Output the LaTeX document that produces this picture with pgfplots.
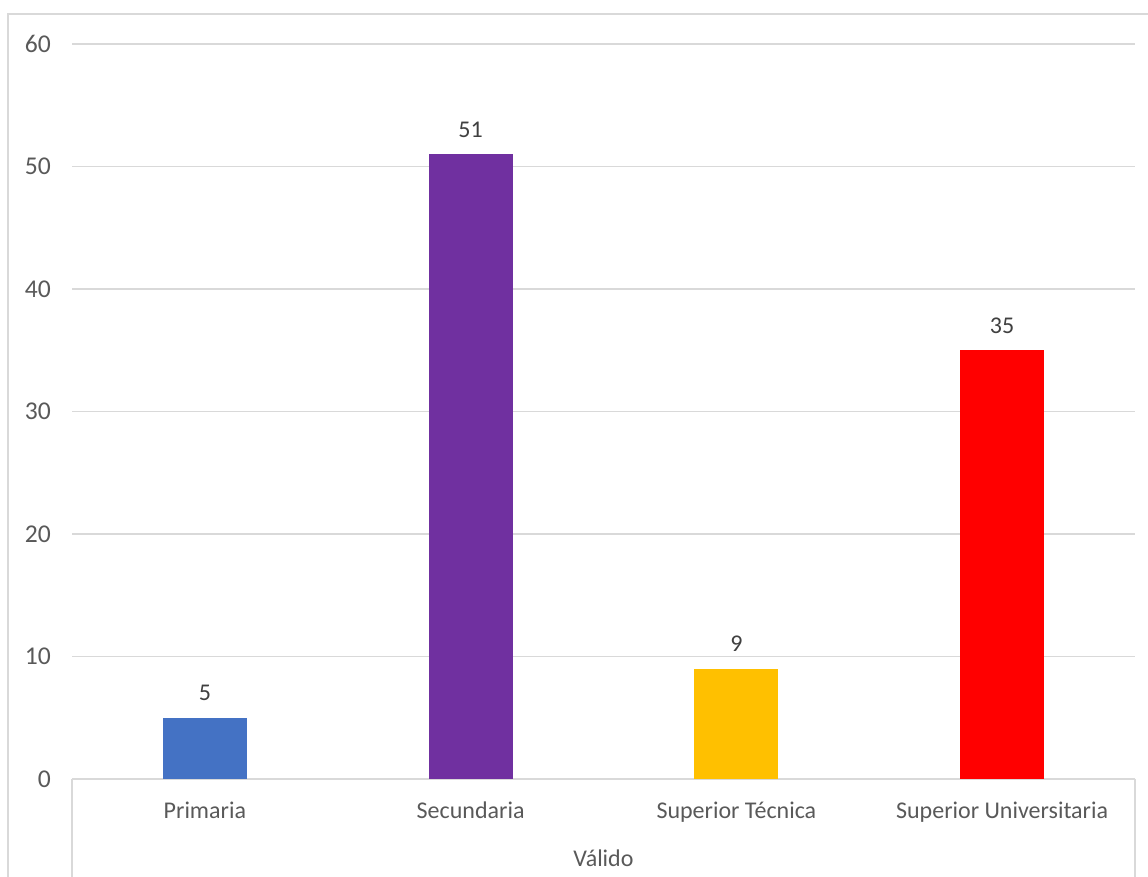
\documentclass[border=0pt]{standalone}
\usepackage{pgfplots}
\pgfplotsset{compat=1.18}
\usepackage{fontspec}
\setmainfont{Carlito}
\definecolor{gridgray}{HTML}{D9D9D9}
\definecolor{txtgray}{HTML}{595959}
\definecolor{lblgray}{HTML}{404040}
\definecolor{barBlue}{HTML}{4472C4}
\definecolor{barPurple}{HTML}{7030A0}
\definecolor{barYellow}{HTML}{FFC000}
\definecolor{barRed}{HTML}{FF0000}

\begin{document}
\begin{tikzpicture}
  % page = 1148 x 877 px at 0.5pt per px
  \useasboundingbox (0,0) rectangle (574pt,438.5pt);
  \clip (0,0) rectangle (574pt,438.5pt);
  \draw[gridgray, line width=1pt] (4pt,-10pt) rectangle (590pt,431.5pt);
  \begin{axis}[
      at={(36pt,49pt)}, anchor=south west,
      scale only axis,
      width=531.5pt, height=367.5pt,
      xmin=-0.5, xmax=3.5,
      ymin=0, ymax=60,
      ytick={0,10,...,60},
      xtick={0,1,2,3},
      xticklabels={Primaria, Secundaria, Superior Técnica, Superior Universitaria},
      ymajorgrids,
      grid style={gridgray, line width=0.8pt},
      axis lines=left,
      x axis line style={gridgray, line width=0.8pt, -},
      y axis line style={draw=none},
      major tick length=0pt,
      tick style={draw=none},
      /pgf/number format/assume math mode=true,
      ticklabel style={font=\fontsize{12}{14}\selectfont, text=txtgray},
      yticklabel style={xshift=-7pt, font=\fontsize{12.8}{14}\selectfont},
      xticklabel style={yshift=-8pt},
      xlabel={Válido},
      xlabel style={font=\fontsize{12}{14}\selectfont, text=txtgray, yshift=-7pt},
      ybar, bar width=42pt, bar shift=0pt,
      nodes near coords,
      every node near coord/.append style={font=\fontsize{12}{14}\selectfont, text=lblgray, yshift=5pt},
      clip=false,
    ]
    \addplot[draw=none, fill=barBlue] coordinates {(0,5)};
    \addplot[draw=none, fill=barPurple] coordinates {(1,51)};
    \addplot[draw=none, fill=barYellow] coordinates {(2,9)};
    \addplot[draw=none, fill=barRed] coordinates {(3,35)};
    \draw[gridgray, line width=0.8pt] (rel axis cs:0,0) -- ([yshift=-60pt]rel axis cs:0,0);
    \draw[gridgray, line width=0.8pt] (rel axis cs:1,0) -- ([yshift=-60pt]rel axis cs:1,0);
  \end{axis}
\end{tikzpicture}
\end{document}
